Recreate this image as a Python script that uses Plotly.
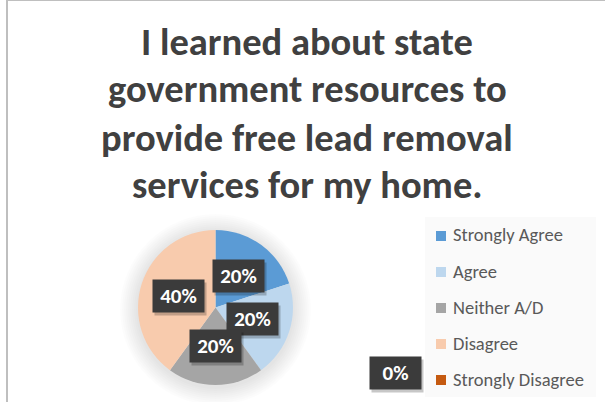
import math
import plotly.graph_objects as go

# Survey responses
categories = ["Strongly Agree", "Agree", "Neither A/D", "Disagree", "Strongly Disagree"]
values = [20, 20, 20, 40, 0]
colors = ["#5B9BD5", "#BDD7EE", "#A5A5A5", "#F8CBAD", "#C55A11"]
title_lines = [
    "I learned about state",
    "government resources to",
    "provide free lead removal",
    "services for my home.",
]

W, H = 605, 402
FONT = "Calibri, Carlito, 'Liberation Sans Narrow', 'DejaVu Sans Condensed', sans-serif"


def px(x):
    return x / W


def py(y):
    return 1 - y / H


# pie geometry (pixels)
cx, cy, R = 215.5, 307.5, 77.5

fig = go.Figure()
fig.add_trace(go.Pie(
    labels=categories,
    values=values,
    marker=dict(colors=colors, line=dict(width=0)),
    sort=False,
    direction="clockwise",
    rotation=0,
    textinfo="none",
    hoverinfo="skip",
    showlegend=False,
    domain=dict(x=[px(cx - R), px(cx + R)], y=[py(cy + R), py(cy - R)]),
))

shapes = []
# chart frame
shapes.append(dict(type="line", xref="paper", yref="paper", x0=px(7), x1=1, y0=py(0.5), y1=py(0.5),
                   line=dict(color="#BFBFBF", width=1)))
shapes.append(dict(type="line", xref="paper", yref="paper", x0=px(7), x1=px(7), y0=0, y1=1,
                   line=dict(color="#BFBFBF", width=2)))

# soft glow behind the pie
for k in range(1, 10):
    r = R + 2 * k
    shapes.append(dict(type="circle", xref="paper", yref="paper", layer="below",
                       x0=px(cx - r), x1=px(cx + r), y0=py(cy + 2 + r), y1=py(cy + 2 - r),
                       fillcolor="rgba(0,0,0,0.012)", line=dict(width=0)))

# legend panel
shapes.append(dict(type="rect", xref="paper", yref="paper", layer="below",
                   x0=px(425), x1=px(596), y0=py(397), y1=py(217),
                   fillcolor="#FAFAFA", line=dict(width=0)))

annotations = []
# title, one line per annotation
for i, line in enumerate(title_lines):
    annotations.append(dict(text="<b>%s</b>" % line, xref="paper", yref="paper",
                            x=px(307), y=py(41 + 48 * i), xanchor="center", yanchor="middle",
                            showarrow=False, font=dict(family=FONT, size=38.5, color="#404040")))

# legend entries
for i, (name, col) in enumerate(zip(categories, colors)):
    yc = 236 + 36 * i
    shapes.append(dict(type="rect", xref="paper", yref="paper",
                       x0=px(436), x1=px(446), y0=py(yc + 5), y1=py(yc - 5),
                       fillcolor=col, line=dict(width=0)))
    annotations.append(dict(text=name, xref="paper", yref="paper", x=px(451), y=py(yc - 1),
                            xanchor="left", yanchor="middle", showarrow=False,
                            font=dict(family=FONT, size=18.5, color="#595959")))


def data_label(text, x, y):
    # drop shadow then dark box
    annotations.append(dict(text=" ", xref="paper", yref="paper", x=px(x + 2), y=py(y + 3),
                            xanchor="center", yanchor="middle", showarrow=False,
                            width=49, height=30, borderpad=1, bgcolor="rgba(0,0,0,0.22)"))
    annotations.append(dict(text="<b>%s</b>" % text, xref="paper", yref="paper", x=px(x), y=py(y),
                            xanchor="center", yanchor="middle", showarrow=False,
                            width=47, height=28, borderpad=2, bgcolor="#3B3B3B",
                            font=dict(family=FONT, size=21, color="#FFFFFF")))


total = sum(values)
start = 0.0
for v in values:
    frac = v / total
    pct = "%d%%" % round(frac * 100)
    if v > 0:
        mid = (start + frac / 2) * 2 * math.pi
        lx = cx + 0.5 * R * math.sin(mid)
        ly = cy - 0.5 * R * math.cos(mid)
        data_label(pct, lx, ly)
    else:
        data_label(pct, 395.5, 373)
    start += frac

fig.update_layout(
    width=W, height=H,
    margin=dict(l=0, r=0, t=0, b=0),
    paper_bgcolor="#FFFFFF",
    plot_bgcolor="#FFFFFF",
    shapes=shapes,
    annotations=annotations,
)

fig.write_html("out.html")
